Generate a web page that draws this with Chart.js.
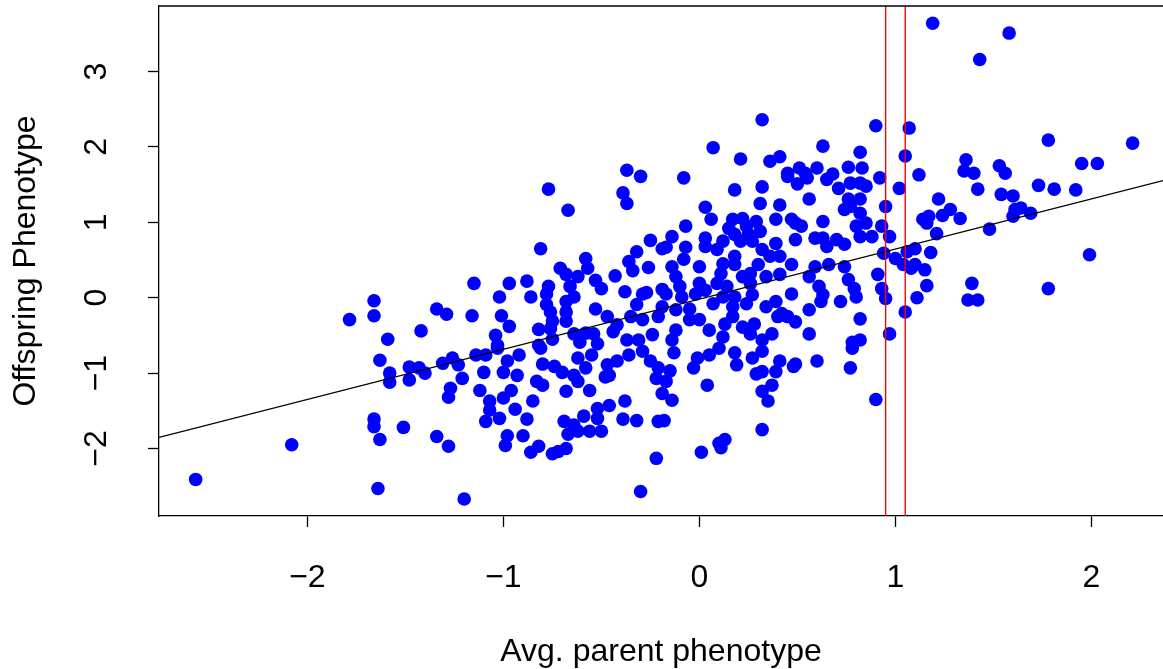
<!DOCTYPE html>
<html><head><meta charset="utf-8">
<script src="https://cdn.jsdelivr.net/npm/chart.js@4.4.1/dist/chart.umd.min.js"></script>
<style>html,body{margin:0;padding:0;background:#fff;overflow:hidden}</style>
</head><body>
<canvas id="c" width="1163" height="669" style="display:block;width:1163px;height:669px"></canvas>
<script>
// ---- data (Avg. parent phenotype, Offspring phenotype) ----
const ptsFarLeft = [[-2.57,-2.41],[-2.08,-1.95],[-1.785,-0.29],[-1.66,-0.04],[-1.66,-0.24],[-1.59,-0.55],[-1.63,-0.83],[-1.58,-1.0],[-1.58,-1.12],[-1.48,-0.92],[-1.48,-1.09],[-1.66,-1.61],[-1.66,-1.71],[-1.63,-1.88],[-1.51,-1.72],[-1.64,-2.53],[-1.42,-0.44]];
const ptsMidLeftUpper = [[-0.77,1.44],[-0.67,1.16],[-0.81,0.65],[-1.15,0.19],[-0.97,0.19],[-0.88,0.22],[-1.02,0.01],[-0.86,0.01],[-1.34,-0.15],[-1.29,-0.22],[-1.16,-0.24],[-1.01,-0.24],[-0.97,-0.38],[-1.04,-0.5],[-1.03,-0.63],[-0.82,-0.42],[-0.82,-0.63],[-0.71,0.39],[-0.68,0.31],[-0.62,0.28],[-0.58,0.52],[-0.57,0.39],[-0.77,0.15],[-0.78,0.05],[-0.66,0.15],[-0.64,0.01],[-0.68,-0.05],[-0.78,-0.09],[-0.76,-0.19],[-0.68,-0.19],[-0.75,-0.31],[-0.68,-0.31],[-0.76,-0.41],[-0.75,-0.55],[-0.64,-0.48],[-0.58,-0.47],[-0.53,0.23],[-0.5,0.12],[-0.43,0.29],[-0.53,-0.15],[-0.47,-0.25],[-0.42,-0.36],[-0.38,0.08],[-0.36,0.48],[-0.32,0.61],[-0.34,0.36],[-0.26,0.4],[-0.25,0.76],[-0.19,0.65],[-0.29,0.05],[-0.27,0.07],[-0.32,-0.09],[-0.19,0.11],[-0.35,-0.25],[-0.29,-0.29],[-0.44,-0.45],[-0.54,-0.48],[-0.37,-0.56],[-0.31,-0.56],[-0.24,-0.49],[-0.21,-0.25],[-0.39,1.39],[-0.37,1.25],[-0.37,1.69],[-0.3,1.61],[-0.61,-0.59],[-0.52,-0.61]];
const ptsMidLeftLower = [[-1.43,-0.93],[-1.4,-1.0],[-1.31,-0.87],[-1.26,-0.8],[-1.23,-0.89],[-1.14,-0.76],[-1.09,-0.76],[-1.03,-0.67],[-1.21,-1.07],[-1.27,-1.2],[-1.28,-1.32],[-1.1,-0.99],[-1.12,-1.23],[-0.98,-0.84],[-1.0,-0.99],[-0.93,-1.03],[-0.92,-0.76],[-0.96,-1.23],[-1.0,-1.33],[-1.07,-1.37],[-1.07,-1.49],[-1.09,-1.64],[-1.02,-1.6],[-0.94,-1.48],[-0.88,-1.61],[-0.85,-1.37],[-0.83,-1.11],[-0.8,-1.16],[-0.8,-0.88],[-0.81,-0.67],[-0.98,-1.83],[-0.99,-1.96],[-0.9,-1.83],[-1.34,-1.84],[-1.28,-1.97],[-1.2,-2.67],[-0.86,-2.05],[-0.82,-1.97],[-0.75,-2.07],[-0.72,-2.04],[-0.68,-2.0],[-0.74,-0.91],[-0.7,-0.99],[-0.64,-1.03],[-0.62,-1.11],[-0.68,-1.24],[-0.56,-1.23],[-0.62,-0.8],[-0.58,-0.93],[-0.55,-0.76],[-0.69,-1.64],[-0.59,-1.57],[-0.64,-1.69],[-0.67,-1.81],[-0.62,-1.77],[-0.56,-1.77],[-0.5,-1.77],[-0.52,-1.47],[-0.52,-1.6],[-0.46,-1.43],[-0.39,-1.61],[-0.38,-1.37],[-0.32,-1.63],[-0.21,-1.64],[-0.22,-2.13],[-0.3,-2.57],[-0.47,-0.89],[-0.46,-1.03],[-0.48,-1.05],[-0.42,-0.84],[-0.36,-0.76],[-0.25,-0.84],[-0.22,-1.07],[-0.21,-0.93],[-0.19,-1.27],[-0.29,-0.71]];
const ptsCenterLower = [[0.04,-1.16],[-0.14,-1.36],[-0.18,-1.63],[0.01,-2.05],[0.1,-1.93],[0.13,-1.88],[0.11,-1.99],[0.32,-1.75],[0.35,-1.37],[0.32,-1.24],[0.37,-1.16],[0.29,-1.01],[0.32,-0.98],[0.39,-0.98],[0.41,-0.84],[0.27,-0.8],[0.32,-0.71],[0.48,-0.91],[0.49,-0.88],[0.6,-0.84],[0.77,-0.93],[0.9,-1.35],[0.78,-0.67],[0.19,-0.89],[0.18,-0.73],[-0.03,-0.93],[-0.01,-0.8],[0.05,-0.76],[0.1,-0.67],[-0.13,-0.73],[-0.15,-0.97],[-0.17,-1.11]];
const ptsCenter = [[-0.08,1.59],[0.18,1.43],[0.32,1.47],[0.56,1.31],[0.41,1.23],[0.31,1.25],[0.03,1.2],[0.06,1.04],[-0.07,0.95],[-0.14,0.81],[-0.17,0.67],[-0.07,0.67],[-0.08,0.51],[-0.14,0.41],[-0.12,0.28],[-0.1,0.15],[-0.17,0.05],[-0.19,-0.12],[-0.12,-0.16],[-0.05,-0.15],[0.0,0.41],[0.03,0.79],[0.03,0.68],[0.12,0.75],[0.09,0.64],[0.17,1.04],[0.15,0.92],[0.22,1.05],[0.24,0.95],[0.25,0.84],[0.18,0.84],[0.21,0.75],[0.29,1.01],[0.31,0.88],[0.27,0.75],[0.32,0.64],[0.39,1.04],[0.39,0.72],[0.41,0.55],[0.36,0.55],[0.18,0.55],[0.18,0.44],[0.12,0.45],[0.3,0.44],[0.26,0.32],[0.22,0.28],[0.34,0.28],[0.41,0.31],[0.47,0.44],[0.11,0.32],[0.09,0.19],[0.0,0.19],[0.03,0.1],[0.14,0.15],[0.26,0.19],[0.27,0.04],[0.18,0.01],[0.12,0.01],[0.07,-0.08],[0.17,-0.12],[0.24,-0.08],[-0.02,0.05],[-0.09,0.01],[-0.05,-0.29],[0.0,-0.29],[0.05,-0.43],[-0.12,-0.43],[-0.14,-0.56],[0.13,-0.35],[0.12,-0.52],[0.17,-0.25],[0.22,-0.39],[0.26,-0.48],[0.28,-0.35],[0.32,-0.56],[0.37,-0.48],[0.4,-0.25],[0.39,-0.05],[0.34,-0.12],[0.47,0.05],[0.42,-0.21],[0.45,-0.25],[0.49,-0.32],[0.56,-0.16],[0.56,-0.48],[0.56,0.28],[0.59,0.41],[0.61,0.15],[0.63,0.04],[0.62,-0.05],[0.66,0.44],[0.74,0.41],[0.76,0.24],[0.79,0.12],[0.72,-0.05],[0.8,0.01],[0.82,-0.28],[0.82,-0.56],[0.78,-0.59],[0.91,0.31],[0.93,0.12],[0.95,-0.01],[0.97,-0.48],[1.05,-0.19],[0.94,0.59],[1.0,0.52],[1.06,0.61],[1.08,0.39],[1.04,0.44],[0.47,1.04],[0.49,0.99],[0.52,0.95],[0.49,0.77],[0.59,0.79],[0.63,0.79],[0.63,1.01],[0.65,0.68],[0.7,0.77],[0.74,0.71],[0.8,0.95],[0.82,0.81],[0.85,0.99],[0.88,0.81],[0.93,0.95],[0.97,0.81],[0.82,1.12],[0.77,1.21],[0.74,1.17],[0.76,1.31],[0.82,1.31],[0.95,1.21],[1.02,1.45],[0.92,1.59],[0.77,1.52],[0.82,1.52],[0.85,1.48],[0.71,1.45],[0.65,1.57],[0.5,1.51],[0.45,1.61],[0.55,1.59]];
const ptsCenterUpper = [[0.32,2.36],[0.07,1.99],[0.21,1.84],[0.36,1.81],[0.41,1.87],[0.63,2.01],[0.9,2.28],[0.82,1.93],[1.05,1.88],[1.07,2.25],[0.45,1.65],[0.51,1.72],[0.54,1.65],[0.6,1.72],[0.68,1.64],[0.76,1.73],[0.83,1.72]];
const ptsRightUpper = [[1.19,3.64],[1.58,3.51],[1.43,3.16],[1.78,2.09],[2.21,2.05],[1.36,1.83],[1.35,1.68],[1.4,1.65],[1.53,1.75],[1.56,1.65],[1.95,1.78],[2.03,1.78],[1.12,1.63]];
const ptsRight = [[1.42,1.44],[1.54,1.37],[1.6,1.35],[1.73,1.49],[1.81,1.44],[1.92,1.43],[1.22,1.31],[1.28,1.17],[1.24,1.09],[1.17,1.08],[1.14,1.04],[1.16,0.99],[1.33,1.05],[1.21,0.85],[1.48,0.91],[1.61,1.17],[1.64,1.19],[1.6,1.08],[1.69,1.12],[1.18,0.6],[1.1,0.44],[1.15,0.37],[1.1,0.65],[1.99,0.57],[1.16,0.16],[1.11,0.0],[1.39,0.19],[1.37,-0.03],[1.42,-0.03],[1.78,0.12]];

// regression line endpoints and red markers
const fitLineX = [-2.757, 2.365];
const fitLineY = [-1.853, 1.553];
const redLineX = [0.95, 1.05];

// axes
const xRange = [-2.757, 2.365];
const yRange = [-2.895, 3.869];
const xTickVals = [-2, -1, 0, 1, 2];
const xTickLabels = ['\u22122', '\u22121', '0', '1', '2'];
const yTickVals = [-2, -1, 0, 1, 2, 3];
const yTickLabels = ['\u22122', '\u22121', '0', '1', '2', '3'];
const xTitle = 'Avg. parent phenotype';
const yTitle = 'Offspring Phenotype';

const FONT = '"Liberation Sans", Arial, Helvetica, sans-serif';
const allPts = [].concat(ptsFarLeft, ptsMidLeftUpper, ptsMidLeftLower, ptsCenterLower, ptsCenter, ptsCenterUpper, ptsRightUpper, ptsRight);

const framePlugin = {
  id: 'frame',
  afterDraw(chart) {
    const {ctx, chartArea: a, scales: {y}} = chart;
    ctx.save();
    ctx.strokeStyle = '#000';
    ctx.lineWidth = 1.3;
    ctx.beginPath();
    ctx.moveTo(a.left - 0.65, a.top);
    ctx.lineTo(a.right, a.top);
    ctx.stroke();
    ctx.fillStyle = '#000';
    ctx.font = '32px ' + FONT;
    ctx.textAlign = 'center';
    ctx.textBaseline = 'alphabetic';
    yTickVals.forEach((v, i) => {
      const py = y.getPixelForValue(v);
      ctx.save();
      ctx.translate(a.left - 53, py);
      ctx.rotate(-Math.PI / 2);
      ctx.fillText(yTickLabels[i], 0, 0);
      ctx.restore();
    });
    ctx.restore();
  }
};

new Chart(document.getElementById('c'), {
  type: 'scatter',
  data: {
    datasets: [
      {
        data: allPts.map(p => ({x: p[0], y: p[1]})),
        backgroundColor: '#0000ff',
        borderWidth: 0,
        pointRadius: 6.8,
        pointHoverRadius: 6.8,
        order: 3
      },
      {
        type: 'line',
        data: fitLineX.map((x, i) => ({x, y: fitLineY[i]})),
        borderColor: '#000',
        borderWidth: 1.4,
        pointRadius: 0,
        showLine: true,
        fill: false,
        order: 2
      },
      ...redLineX.map(x => ({
        type: 'line',
        data: [{x, y: yRange[0]}, {x, y: yRange[1]}],
        borderColor: '#ff0000',
        borderWidth: 1.4,
        pointRadius: 0,
        showLine: true,
        fill: false,
        order: 1
      }))
    ]
  },
  options: {
    responsive: false,
    animation: false,
    devicePixelRatio: 1,
    layout: {autoPadding: false, padding: {top: 6, right: 0, bottom: 0, left: 0}},
    plugins: {legend: {display: false}, tooltip: {enabled: false}},
    scales: {
      x: {
        type: 'linear',
        min: xRange[0],
        max: xRange[1],
        afterBuildTicks: s => { s.ticks = xTickVals.map(v => ({value: v})); },
        afterFit: s => { s.height = 153; s.paddingLeft = 0; s.paddingRight = 0; },
        grid: {drawOnChartArea: false, drawTicks: true, tickLength: 11, tickWidth: 1.3, tickColor: '#000'},
        border: {display: true, color: '#000', width: 1.3},
        ticks: {
          color: '#000', font: {family: FONT, size: 32}, padding: 32,
          maxRotation: 0, autoSkip: false,
          callback: (v, i) => xTickLabels[i]
        },
        title: {display: true, text: xTitle, color: '#000', font: {family: FONT, size: 32, lineHeight: 1}, padding: {top: 0, bottom: 1}}
      },
      y: {
        type: 'linear',
        min: yRange[0],
        max: yRange[1],
        afterBuildTicks: s => { s.ticks = yTickVals.map(v => ({value: v})); },
        afterFit: s => { s.width = 159; s.paddingTop = 0; s.paddingBottom = 0; },
        grid: {drawOnChartArea: false, drawTicks: true, tickLength: 11, tickWidth: 1.3, tickColor: '#000'},
        border: {display: true, color: '#000', width: 1.3},
        ticks: {display: false},
        title: {display: true, text: yTitle, color: '#000', font: {family: FONT, size: 32, lineHeight: 1}, padding: {top: 10, bottom: 0}}
      }
    }
  },
  plugins: [framePlugin]
});
</script>
</body></html>
